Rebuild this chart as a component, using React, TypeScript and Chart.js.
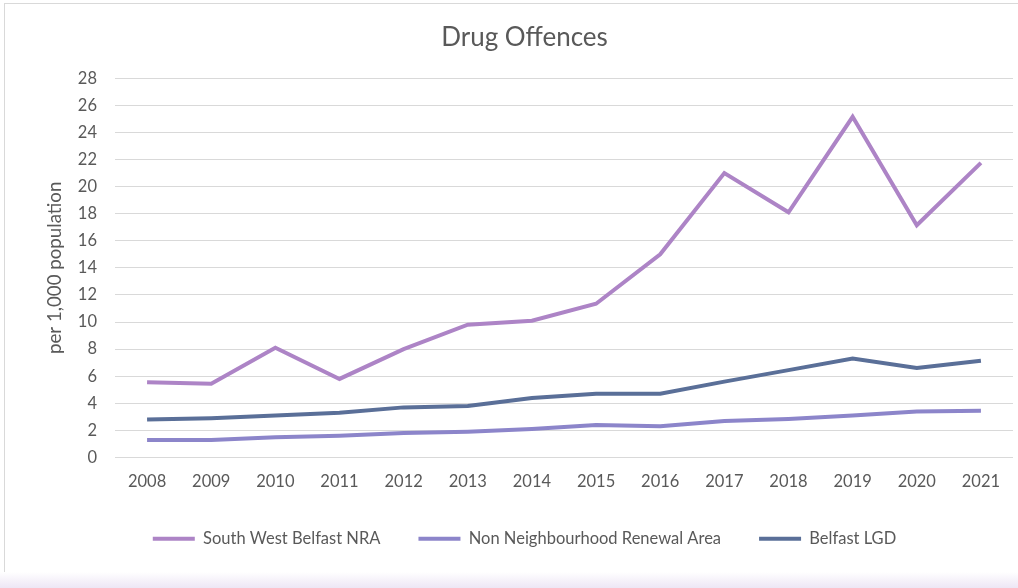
import React, { useEffect, useRef } from "react";
import { Chart, registerables } from "chart.js";

Chart.register(...registerables);

const years = ["2008", "2009", "2010", "2011", "2012", "2013", "2014", "2015", "2016", "2017", "2018", "2019", "2020", "2021"];
const southWestBelfastNRA = [5.55, 5.45, 8.1, 5.8, 8.0, 9.8, 10.1, 11.35, 15.0, 21.0, 18.1, 25.15, 17.15, 21.75];
const nonNRA = [1.3, 1.3, 1.5, 1.6, 1.8, 1.9, 2.1, 2.4, 2.3, 2.7, 2.85, 3.1, 3.4, 3.45];
const belfastLGD = [2.8, 2.9, 3.1, 3.3, 3.7, 3.8, 4.4, 4.7, 4.7, 5.6, 6.45, 7.3, 6.6, 7.15];
const seriesNames = ["South West Belfast NRA", "Non Neighbourhood Renewal Area", "Belfast LGD"];
const seriesColors = ["#AD84C6", "#8C85CA", "#5A6F98"];

const FONT = "Lato, 'Open Sans', sans-serif";
const TEXT = "#595959";

export default function App() {
  const ref = useRef<HTMLCanvasElement>(null);
  useEffect(() => {
    document.body.style.margin = "0";
    const ctx = ref.current!;
    const datasets = [southWestBelfastNRA, nonNRA, belfastLGD].map((d, i) => ({
      label: seriesNames[i],
      data: d,
      borderColor: seriesColors[i],
      backgroundColor: seriesColors[i],
      borderWidth: 4,
      pointRadius: 0,
      tension: 0,
      pointStyle: "line" as const,
    }));
    const chart = new Chart(ctx, {
      type: "line",
      data: { labels: years, datasets },
      options: {
        animation: false,
        responsive: false,
        maintainAspectRatio: false,
        layout: { padding: { top: 22, right: 5, bottom: 31, left: 36 } },
        plugins: {
          title: {
            display: true,
            text: "Drug Offences",
            color: TEXT,
            font: { family: FONT, size: 26, weight: "normal" },
            padding: { top: 0, bottom: 25 },
          },
          legend: {
            position: "bottom",
            labels: {
              usePointStyle: true,
              pointStyle: "line",
              pointStyleWidth: 42,
              boxHeight: 14,
              padding: 38,
              color: TEXT,
              font: { family: FONT, size: 16.5 },
            },
          },
          tooltip: { enabled: false },
        },
        scales: {
          x: {
            offset: true,
            grid: { display: false },
            border: { display: false },
            ticks: { color: TEXT, font: { family: FONT, size: 16.5 }, padding: 6, maxRotation: 0 },
            afterFit: (s: any) => { s.height = 35; },
          },
          y: {
            min: 0,
            max: 28,
            ticks: { stepSize: 2, color: TEXT, font: { family: FONT, size: 16.5 }, padding: 18 },
            grid: { color: "#D9D9D9", lineWidth: 1, drawTicks: false },
            border: { display: false },
            title: {
              display: true,
              text: "per 1,000 population",
              color: TEXT,
              font: { family: FONT, size: 18.7 },
              padding: { top: 8, bottom: 0 },
            },
            afterFit: (s: any) => { s.width = 79; },
          },
        },
      },
    });
    return () => chart.destroy();
  }, []);
  return (
    <div style={{ position: "absolute", left: 0, top: 0, width: 1018, height: 588, background: "#fff", overflow: "hidden" }}>
      <div style={{ position: "absolute", left: 4, top: 3, width: 1030, height: 600, border: "1px solid #D9D9D9" }} />
      <div style={{ position: "absolute", left: 0, top: 572, width: 1018, height: 16, background: "linear-gradient(#ffffff, #EDE6F5)" }} />
      <canvas ref={ref} width={1018} height={588} style={{ position: "absolute", left: 0, top: 0 }} />
    </div>
  );
}
